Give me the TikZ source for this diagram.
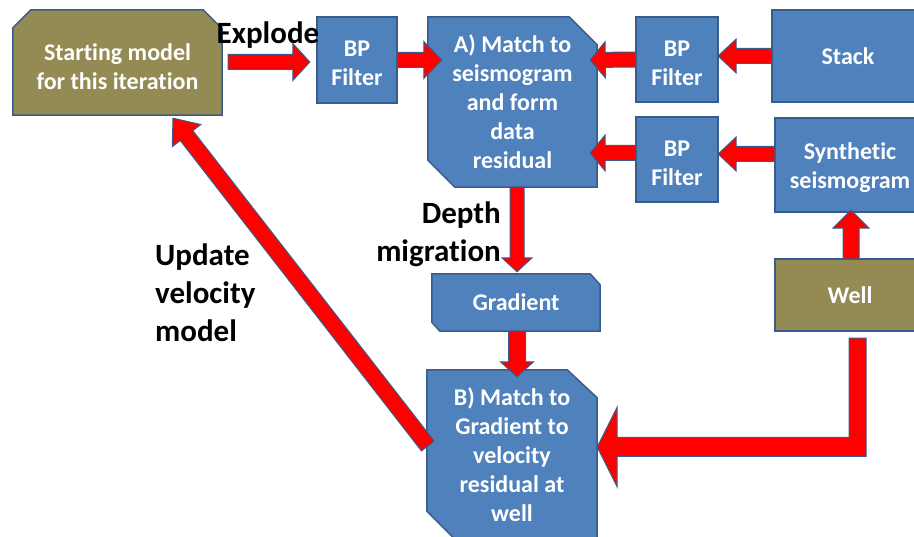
\documentclass[tikz,border=0pt]{standalone}
\usepackage{fontspec}
\setmainfont{Carlito}[Ligatures=NoCommon]
\usetikzlibrary{calc,backgrounds}
\definecolor{boxblue}{HTML}{4F81BD}
\definecolor{edgeblue}{HTML}{385D8A}
\definecolor{olivebox}{HTML}{948A54}
\definecolor{arrred}{HTML}{FF0000}
\newcommand\lift[1]{\rule{0pt}{#1}}
\tikzset{
  boxtext/.style={inner sep=0pt, text=white, align=center,
    font=\fontsize{24}{29}\selectfont\bfseries},
  lbl/.style={inner sep=0pt, text=black,
    font=\fontsize{31}{38}\selectfont\bfseries},
  bluefill/.style={fill=boxblue, draw=edgeblue, line width=1.5pt, line join=miter},
  olivefill/.style={fill=olivebox, draw=edgeblue, line width=1.5pt, line join=miter},
  blockarrow/.style={fill=arrred, draw=edgeblue, line width=1pt, line join=miter},
}
% #1 start, #2 tip, #3 shaft half width, #4 head half width, #5 head length
\newcommand\blockarr[5]{%
  \path #1 coordinate (ba-s) #2 coordinate (ba-t);
  \path ($(ba-t)!#5!(ba-s)$) coordinate (ba-h);
  \draw[blockarrow] ($(ba-s)!#3!90:(ba-t)$) -- ($(ba-h)!#3!90:(ba-t)$)
    -- ($(ba-h)!#4!90:(ba-t)$) -- (ba-t) -- ($(ba-h)!#4!-90:(ba-t)$)
    -- ($(ba-h)!#3!-90:(ba-t)$) -- ($(ba-s)!#3!-90:(ba-t)$) -- cycle;
}
\begin{document}
\begin{tikzpicture}[x=1pt,y=-1pt]
\useasboundingbox (0,0) rectangle (914,537);

% ---- nodes (text) ----
\node[boxtext, minimum width=209pt, minimum height=105pt] (sm) at (117.5,62.5) {\lift{26pt}Starting model\\for this iteration};
\node[boxtext, minimum width=80pt, minimum height=86pt] (bp1) at (357,60) {\lift{23pt}BP\\Filter};
\node[boxtext, minimum width=169pt, minimum height=170pt] (A) at (512.5,102) {A) Match to\\seismogram\\and form\\data\\residual};
\node[boxtext, minimum width=82pt, minimum height=85pt] (bp2) at (677,59.5) {\lift{23pt}BP\\Filter};
\node[boxtext, minimum width=148pt, minimum height=92pt] (stack) at (846,56) {\hspace*{4pt}Stack};
\node[boxtext, minimum width=82pt, minimum height=85pt] (bp3) at (677,159.5) {\lift{23pt}BP\\Filter};
\node[boxtext, minimum width=145pt, minimum height=94pt] (syn) at (847.5,165) {\lift{23pt}\hspace*{5pt}Synthetic\\\hspace*{5pt}seismogram};
\node[boxtext, minimum width=145pt, minimum height=72pt] (well) at (847.5,295) {\hspace*{5pt}Well};
\node[boxtext, minimum width=168pt, minimum height=57pt] (grad) at (516,302.5) {Gradient};
\node[boxtext, minimum width=170pt, minimum height=169pt] (B) at (512,454.5) {B) Match to\\Gradient to\\velocity\\residual at\\well};

% ---- labels ----
\node[lbl, anchor=base] (explode) at (268,44) {Explode};
\node[lbl, align=right, anchor=east] (depth) at (501,234) {Depth\\migration};
\node[lbl, align=left, anchor=west] (update) at (155,293) {Update\\velocity\\model};

% ---- box outlines ----
\begin{pgfonlayer}{background}
\draw[olivefill] (sm.south west) -- ([yshift=-18pt]sm.north west) -- ([xshift=18pt]sm.north west)
  -- ([xshift=-19pt]sm.north east) -- ([yshift=-19pt]sm.north east) -- (sm.south east) -- cycle;
\draw[bluefill] (bp1.north west) rectangle (bp1.south east);
\draw[bluefill] (A.north west) -- ([xshift=-28pt]A.north east) -- ([yshift=-28pt]A.north east)
  -- (A.south east) -- ([xshift=27pt]A.south west) -- ([yshift=27pt]A.south west) -- cycle;
\draw[bluefill] (bp2.north west) rectangle (bp2.south east);
\draw[bluefill] (stack.north west) rectangle (stack.south east);
\draw[bluefill] (bp3.north west) rectangle (bp3.south east);
\draw[bluefill] (syn.north west) rectangle (syn.south east);
\draw[olivefill] (well.north west) rectangle (well.south east);
\draw[bluefill] (grad.north west) -- ([xshift=-10pt]grad.north east) -- ([yshift=-11pt]grad.north east)
  -- (grad.south east) -- ([xshift=8pt]grad.south west) -- ([yshift=9pt]grad.south west) -- cycle;
\draw[bluefill] (B.north west) -- ([xshift=-30pt]B.north east) -- ([yshift=-28pt]B.north east)
  -- (B.south east) -- ([xshift=28pt]B.south west) -- ([yshift=28pt]B.south west) -- cycle;
\end{pgfonlayer}

% ---- block arrows ----
\blockarr{($(sm.east)+(6,-0.5)$)}{($(bp1.west)+(-7,2)$)}{7.5pt}{18.5pt}{17pt}
\blockarr{(bp1.east)}{($(A.west)+(14,-42)$)}{7.5pt}{18.5pt}{18pt}
\blockarr{(bp2.west)}{($(A.east)+(-7,-42)$)}{7.5pt}{18pt}{15pt}
\blockarr{(stack.west)}{($(bp2.east)+(0,-3.5)$)}{7.5pt}{17pt}{18pt}
\blockarr{($(bp3.west)+(0,-6.5)$)}{($(A.east)+(-7,51)$)}{7.5pt}{18pt}{15pt}
\blockarr{($(syn.west)+(0,-11)$)}{($(bp3.east)+(0,-5.5)$)}{7.5pt}{17pt}{18pt}
\blockarr{($(well.north)+(3.5,0)$)}{($(syn.south)+(3.5,-2)$)}{8pt}{18pt}{18pt}
\blockarr{($(A.south)+(4.5,0)$)}{($(grad.north)+(1,-2)$)}{7pt}{15pt}{14pt}
\blockarr{($(grad.south)+(1,0)$)}{($(B.north)+(5,7)$)}{8.5pt}{16.5pt}{15pt}
\blockarr{($(B.west)+(1,-8.5)$)}{($(sm.south)+(55.5,3)$)}{8pt}{18pt}{22pt}

% elbow arrow from Well to B
\coordinate (wellout) at ($(well.south)+(10,7)$);
\coordinate (btip) at ($(B.east)+(0,-7.5)$);
\draw[blockarrow] ($(wellout)+(-8.5,0)$) -- ($(wellout)+(8.5,0)$)
  -- ($(wellout |- btip)+(8.5,9.5)$) -- ($(btip)+(20,9.5)$) -- ($(btip)+(20,40)$)
  -- (btip) -- ($(btip)+(20,-40)$) -- ($(btip)+(20,-9.5)$)
  -- ($(wellout |- btip)+(-8.5,-9.5)$) -- cycle;
\end{tikzpicture}
\end{document}
